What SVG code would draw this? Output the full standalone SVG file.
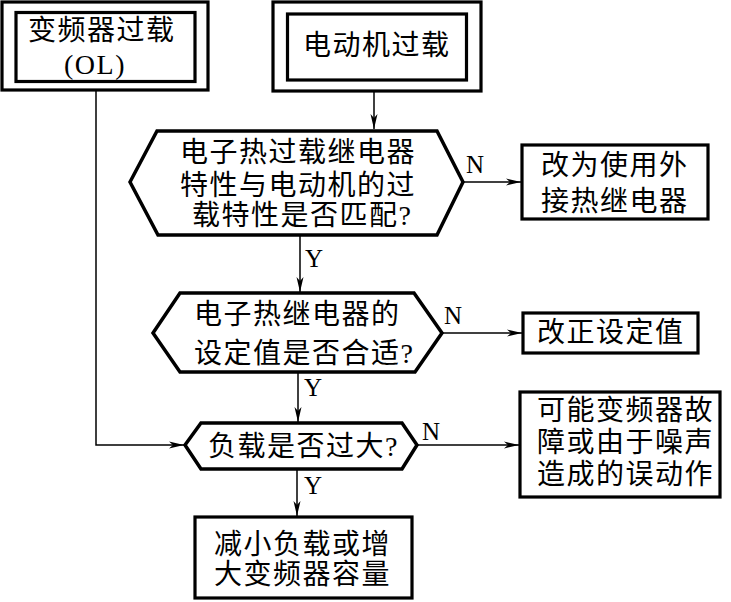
<svg xmlns="http://www.w3.org/2000/svg" width="731" height="602" viewBox="0 0 731 602">
<defs>
<style>
.b{fill:#fff;stroke:#000;stroke-width:3.2}
.h{fill:#fff;stroke:#000;stroke-width:3.5;stroke-linejoin:miter}
.c{fill:none;stroke:#000;stroke-width:1.5}
.t{font-family:"Liberation Serif","Noto Sans CJK SC",serif;font-size:28px;fill:#000;letter-spacing:1.5px}
.l{font-family:"Liberation Serif","Noto Sans CJK SC",serif;font-size:25px;fill:#000}
</style>
<marker id="ah" markerWidth="16" markerHeight="8" refX="15" refY="4" orient="auto" markerUnits="userSpaceOnUse">
<path d="M0,0.5 L15,4 L0,7.5 L4,4 Z" fill="#000"/>
</marker>
</defs>
<rect width="731" height="602" fill="#fff"/>
<g id="n1">
<rect class="b" x="2" y="2" width="206" height="88" stroke-width="3.5"/>
<rect class="b" x="16" y="12.5" width="179" height="69"/>
<text class="t" x="28" y="40">变频器过载</text>
<text class="t" x="64" y="74" letter-spacing="3">(OL)</text>
</g>
<g id="n2">
<rect class="b" x="273" y="2" width="208" height="89" stroke-width="3.5"/>
<rect class="b" x="287.5" y="14" width="179" height="66"/>
<text class="t" x="303" y="55">电动机过载</text>
</g>
<g id="d1">
<polygon class="h" points="130,182 157,131 437,131 463,182 437,235 158,235"/>
<text class="t" x="180" y="162">电子热过载继电器</text>
<text class="t" x="180" y="195">特性与电动机的过</text>
<text class="t" x="192" y="225">载特性是否匹配?</text>
</g>
<g id="r1">
<rect class="b" x="522" y="145" width="186" height="74"/>
<text class="t" x="541" y="175">改为使用外</text>
<text class="t" x="541" y="211">接热继电器</text>
</g>
<g id="d2">
<polygon class="h" points="153,333 180,293 414,293 442,333 415,372 180,372"/>
<text class="t" x="194" y="324">电子热继电器的</text>
<text class="t" x="194" y="363">设定值是否合适?</text>
</g>
<g id="r2">
<rect class="b" x="523" y="313" width="175" height="40"/>
<text class="t" x="537" y="342">改正设定值</text>
</g>
<g id="d3">
<polygon class="h" points="185,445 201,423 402,423 417,445 402,469 201,469"/>
<text class="t" x="208" y="456">负载是否过大?</text>
</g>
<g id="r3">
<rect class="b" x="520" y="392" width="200" height="105"/>
<text class="t" x="537" y="420">可能变频器故</text>
<text class="t" x="537" y="452">障或由于噪声</text>
<text class="t" x="537" y="484">造成的误动作</text>
</g>
<g id="r4">
<rect class="b" x="195" y="517" width="217" height="81"/>
<text class="t" x="214" y="554">减小负载或增</text>
<text class="t" x="214" y="584">大变频器容量</text>
</g>
<g id="connectors">
<line class="c" x1="374" y1="91" x2="374" y2="129" marker-end="url(#ah)"/>
<polyline class="c" points="96,90 96,445 184,445" marker-end="url(#ah)"/>
<line class="c" x1="463" y1="182" x2="521" y2="182" marker-end="url(#ah)"/>
<line class="c" x1="300" y1="235" x2="300" y2="292" marker-end="url(#ah)"/>
<line class="c" x1="442" y1="333" x2="522" y2="333" marker-end="url(#ah)"/>
<line class="c" x1="298" y1="372" x2="298" y2="422" marker-end="url(#ah)"/>
<line class="c" x1="417" y1="445" x2="519" y2="445" marker-end="url(#ah)"/>
<line class="c" x1="297" y1="469" x2="297" y2="516" marker-end="url(#ah)"/>
<text class="l" x="466" y="173">N</text>
<text class="l" x="444" y="324">N</text>
<text class="l" x="422" y="440">N</text>
<text class="l" x="305" y="267">Y</text>
<text class="l" x="304" y="396">Y</text>
<text class="l" x="304" y="494">Y</text>
</g>
</svg>
